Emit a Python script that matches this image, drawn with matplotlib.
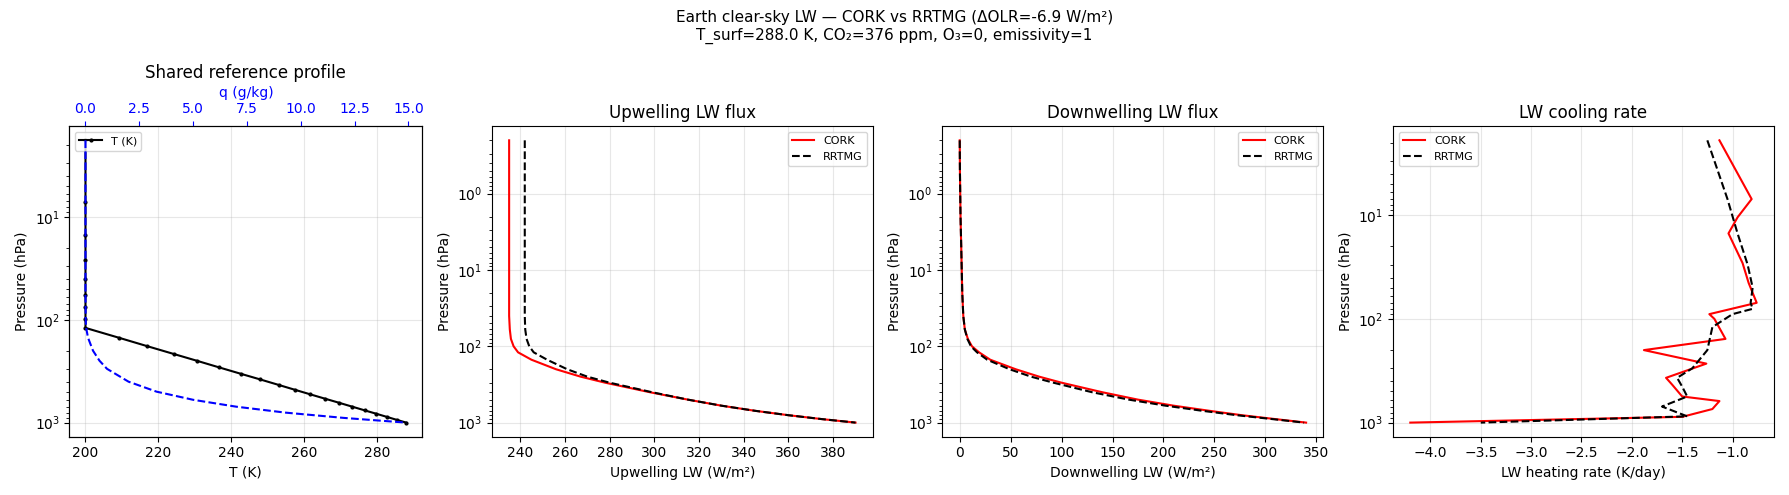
import matplotlib
matplotlib.use("Agg")
import matplotlib.pyplot as plt

# reference profile (levels, hPa)
p_lev = [1.8, 7.2, 15, 26, 40, 57, 75, 98, 120, 150, 180, 215, 250, 290, 335, 380,
         430, 480, 530, 585, 640, 700, 760, 820, 880, 940, 1000]
t_lev = [200, 200, 200, 200, 200, 200, 200, 200, 200, 209.3, 216.8, 224.2, 230.5, 236.6,
         242.6, 247.9, 253.0, 257.5, 261.6, 265.7, 269.5, 273.2, 276.6, 279.8, 282.7, 285.4, 288.0]
p_q = [1.8, 50, 100, 120, 150, 200, 250, 300, 400, 500, 600, 700, 800, 900, 1000]
q_gkg = [0, 0, 0.01, 0.03, 0.12, 0.35, 0.65, 1.0, 2.0, 3.3, 5.0, 7.0, 9.3, 12.0, 14.9]

# fluxes on interfaces
p_flx = [0.2, 0.5, 1, 2, 5, 10, 20, 40, 60, 80, 100, 120, 150, 200, 250, 300, 400,
         500, 600, 700, 800, 900, 1000]
up_cork = [235, 235, 235, 235, 235, 235, 235, 235, 235.3, 235.8, 237, 239, 245, 256, 267,
           278, 298, 315, 330, 345, 360, 375, 390]
up_rrtmg = [242, 242, 242, 242, 242, 242, 242, 242, 242.2, 242.8, 244, 246, 252, 261, 270,
            280, 299, 315, 330, 345, 360, 375, 390]
dn_cork = [0, 0.2, 0.5, 0.8, 1.5, 2, 2.5, 3.5, 5, 8, 12, 19, 30, 55, 78, 100, 140,
           175, 210, 245, 277, 310, 340]
dn_rrtmg = [0, 0.2, 0.5, 0.8, 1.5, 2, 2.5, 3.5, 5, 7.5, 11, 17, 27, 49, 70, 92, 130,
            166, 202, 238, 272, 307, 338]

# heating rates on layers
p_hr_cork = [1.9, 7, 10.5, 15, 29, 45, 70, 90, 100, 156, 200, 270, 370, 430, 560, 620,
             740, 880, 1000]
hr_cork = [-1.13, -0.81, -0.95, -1.04, -0.9, -0.84, -0.76, -1.23, -1.18, -1.07, -1.88,
           -1.26, -1.66, -1.6, -1.5, -1.13, -1.2, -1.5, -4.2]
p_hr_rrtmg = [1.9, 7, 15, 30, 50, 70, 80, 90, 120, 200, 300, 370, 450, 560, 700, 870, 1000]
hr_rrtmg = [-1.25, -1.05, -0.95, -0.85, -0.8, -0.82, -0.8, -1.0, -1.2, -1.25, -1.4,
            -1.55, -1.5, -1.45, -1.7, -1.45, -3.5]

fig, axes = plt.subplots(1, 4, figsize=(17.89, 4.95), dpi=100,
                         gridspec_kw={"width_ratios": [1, 1.08, 1.08, 1.08]})

ax = axes[0]
ax.plot(t_lev, p_lev, "k.-", ms=4, label="T (K)")
ax.set_yscale("log"); ax.invert_yaxis()
ax.set(xlabel="T (K)", ylabel="Pressure (hPa)")
ax.grid(alpha=.3); ax.legend(loc="upper left", fontsize=8)
ax2 = ax.twiny()
ax2.plot(q_gkg, p_q, "b--")
ax2.set_xlabel("q (g/kg)", color="blue")
ax2.tick_params(axis="x", colors="blue")
ax.set_title("Shared reference profile", fontsize=12)

ax = axes[1]
ax.plot(up_cork, p_flx, "r-", label="CORK")
ax.plot(up_rrtmg, p_flx, "k--", label="RRTMG")
ax.set(xlabel="Upwelling LW (W/m²)", ylabel="Pressure (hPa)", title="Upwelling LW flux")

ax = axes[2]
ax.plot(dn_cork, p_flx, "r-", label="CORK")
ax.plot(dn_rrtmg, p_flx, "k--", label="RRTMG")
ax.set(xlabel="Downwelling LW (W/m²)", ylabel="Pressure (hPa)", title="Downwelling LW flux")

ax = axes[3]
ax.plot(hr_cork, p_hr_cork, "r-", label="CORK")
ax.plot(hr_rrtmg, p_hr_rrtmg, "k--", label="RRTMG")
ax.set(xlabel="LW heating rate (K/day)", ylabel="Pressure (hPa)", title="LW cooling rate")

for i, ax in enumerate(axes[1:], 1):
    ax.set_yscale("log"); ax.invert_yaxis(); ax.grid(alpha=.3)
    ax.title.set_fontsize(12)
    ax.legend(loc="upper left" if i == 3 else "upper right", fontsize=8)

fig.suptitle("Earth clear-sky LW — CORK vs RRTMG (ΔOLR=-6.9 W/m²)\n"
             "T_surf=288.0 K, CO₂=376 ppm, O₃=0, emissivity=1", fontsize=11)
fig.tight_layout()
fig.savefig("out.png", dpi=100)
plt.close(fig)
